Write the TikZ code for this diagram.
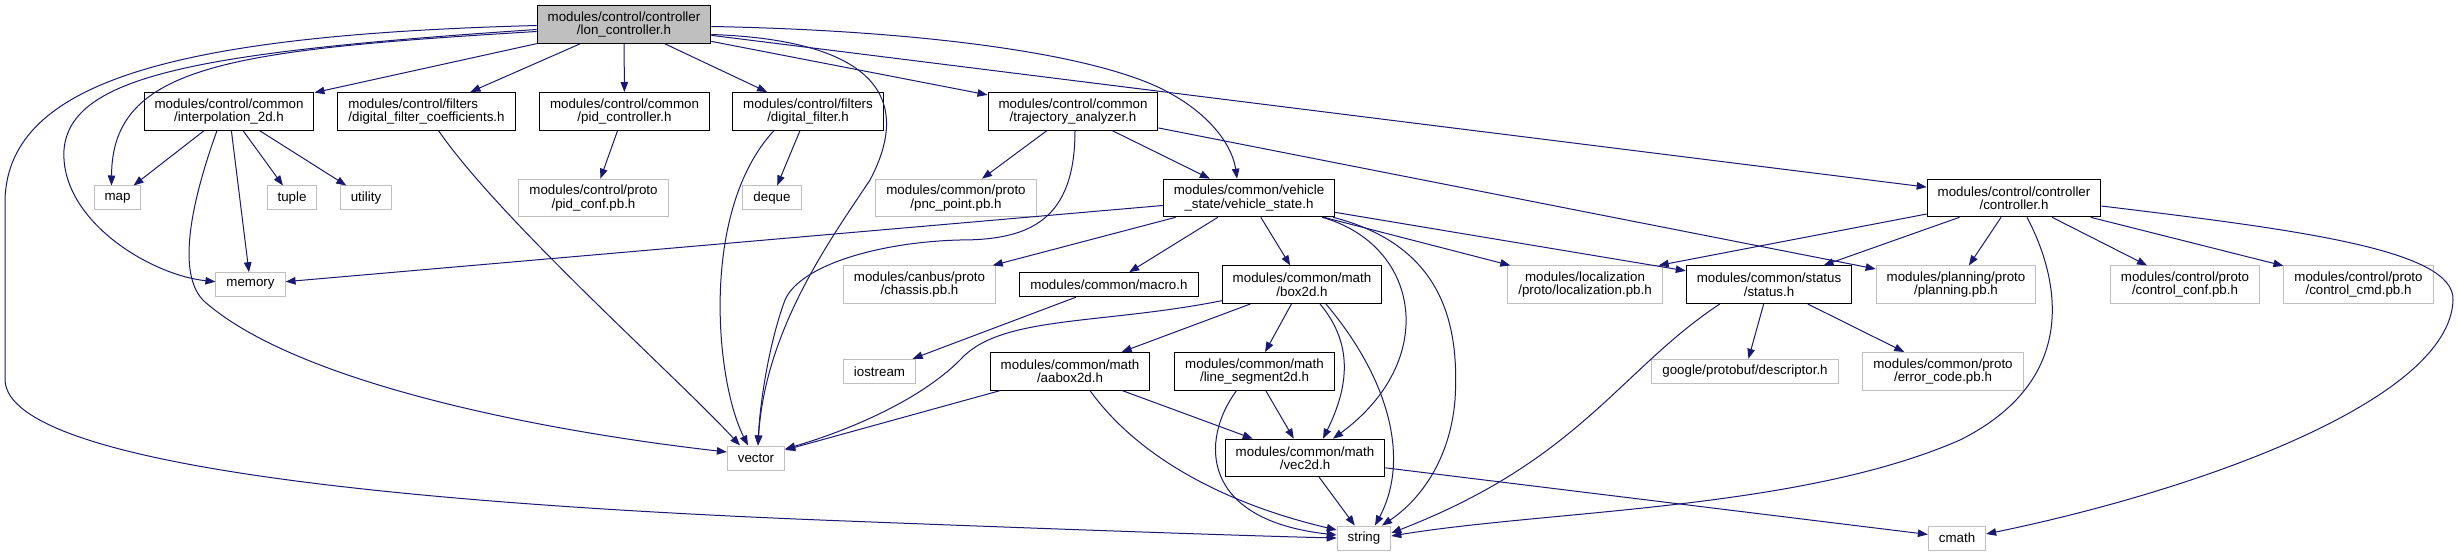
\documentclass[tikz,border=0pt]{standalone}
\usepackage{fontspec}
\setmainfont{Liberation Sans}
\usetikzlibrary{arrows.meta,calc}
\definecolor{edgeblue}{HTML}{191970}
\definecolor{boxgrey}{HTML}{BFBFBF}
\newcommand{\lblfont}{\fontsize{13.33}{13.33}\selectfont}
\tikzset{
	file/.style={draw=black, fill=white, line width=1pt, font=\lblfont, align=center, inner xsep=10.5pt, inner ysep=1pt, minimum height=24pt},
	extfile/.style={file, draw=boxgrey},
	rootfile/.style={file, fill=boxgrey},
	twoline/.style={minimum height=37.6pt},
	dep/.style={draw=edgeblue, line width=1pt, -{Triangle[length=10pt,width=7.5pt]}}
}
\begin{document}
\begin{tikzpicture}[x=1pt,y=-1pt]
	\useasboundingbox (0,0) rectangle (2458,556);
	% rank 0 and 1
	\node[rootfile,twoline] (root) at (624,24.5) {modules/control/controller\\/lon\_controller.h};
	\node[file,twoline] (interp) at (229,111.3) {modules/control/common\\/interpolation\_2d.h};
	\node[file,twoline,align=left] (dfc) at (426.5,111.3) {modules/control/filters\\/digital\_filter\_coefficients.h};
	\node[file,twoline] (pidc) at (624.5,111.3) {modules/control/common\\/pid\_controller.h};
	\node[file,twoline] (dfilt) at (808,111.3) {modules/control/filters\\/digital\_filter.h};
	\node[file,twoline] (traj) at (1073,111.3) {modules/control/common\\/trajectory\_analyzer.h};
	% rank 2
	\node[extfile] (map) at (117.5,198) {map};
	\node[extfile] (tuple) at (292,198) {tuple};
	\node[extfile] (utility) at (366,198) {utility};
	\node[extfile,twoline] (pidconf) at (593.5,198) {modules/control/proto\\/pid\_conf.pb.h};
	\node[extfile] (deque) at (772,198) {deque};
	\node[extfile,twoline] (pnc) at (956,198) {modules/common/proto\\/pnc\_point.pb.h};
	\node[file,twoline] (vstate) at (1249,198) {modules/common/vehicle\\\_state/vehicle\_state.h};
	\node[file,twoline] (ctrl) at (2014,198) {modules/control/controller\\/controller.h};
	% rank 3
	\node[extfile] (memory) at (250.5,284.7) {memory};
	\node[extfile,twoline] (chassis) at (919.5,284.7) {modules/canbus/proto\\/chassis.pb.h};
	\node[file] (macro) at (1109,284.7) {modules/common/macro.h};
	\node[file,twoline] (box2d) at (1302,284.7) {modules/common/math\\/box2d.h};
	\node[extfile,twoline] (loc) at (1585,284.7) {modules/localization\\/proto/localization.pb.h};
	\node[file,twoline] (status) at (1769,284.7) {modules/common/status\\/status.h};
	\node[extfile,twoline] (planning) at (1956,284.7) {modules/planning/proto\\/planning.pb.h};
	\node[extfile,twoline] (cconf) at (2185,284.7) {modules/control/proto\\/control\_conf.pb.h};
	\node[extfile,twoline] (ccmd) at (2358.5,284.7) {modules/control/proto\\/control\_cmd.pb.h};
	% rank 4
	\node[extfile] (iostream) at (879.5,371.3) {iostream};
	\node[file,twoline] (aabox) at (1070,371.3) {modules/common/math\\/aabox2d.h};
	\node[file,twoline] (lineseg) at (1254.5,371.3) {modules/common/math\\/line\_segment2d.h};
	\node[extfile] (descr) at (1745,371.3) {google/protobuf/descriptor.h};
	\node[extfile,twoline] (errcode) at (1943,371.3) {modules/common/proto\\/error\_code.pb.h};
	% rank 5 and 6
	\node[extfile] (vector) at (756,458) {vector};
	\node[file,twoline] (vec2d) at (1305,458) {modules/common/math\\/vec2d.h};
	\node[extfile] (string) at (1364,538) {string};
	\node[extfile] (cmath) at (1957,538) {cmath};

	% lon_controller.h
	\draw[dep] (root) -- (interp);
	\draw[dep] (root) -- (dfc);
	\draw[dep] (root) -- (pidc);
	\draw[dep] (root) -- (dfilt);
	\draw[dep] ($(root.west)+(0,7)$) .. controls (230,50) and (112,65) .. ($(map.north)+(-6,0)$);
	\draw[dep] ($(root.west)+(0,5)$) .. controls (200,52) and (70,75) .. (64,150) .. controls (60,220) and (150,275) .. ($(memory.west)+(0,-3)$);
	\draw[dep] ($(root.west)+(0,1)$) .. controls (180,35) and (8,80) .. (5,200) -- (5,380) .. controls (8,470) and (450,505) .. (820,520) .. controls (1050,529) and (1250,536) .. (string.west);
	\draw[dep] ($(root.east)+(0,10)$) .. controls (870,40) and (915,95) .. (870,180) .. controls (830,240) and (765,330) .. ($(vector.north)+(2,0)$);
	\draw[dep] (root) -- (traj);
	\draw[dep] ($(root.east)+(0,2)$) .. controls (900,30) and (1080,50) .. (1160,88) .. controls (1215,115) and (1233,150) .. ($(vstate.north)+(-12,0)$);
	\draw[dep] (root) -- (ctrl);

	% interpolation_2d.h
	\draw[dep] (interp) -- (map);
	\draw[dep] (interp) -- (tuple);
	\draw[dep] (interp) -- (utility);
	\draw[dep] (interp) -- (memory);
	\draw[dep] ($(interp.south)+(-12,0)$) .. controls (192,200) and (175,275) .. (205,302) .. controls (300,385) and (550,432) .. ($(vector.west)+(0,-6)$);

	% filters and pid
	\draw[dep] ($(dfc.south)+(12,0)$) .. controls (500,220) and (680,380) .. ($(vector.north)+(-16,0)$);
	\draw[dep] (pidc) -- (pidconf);
	\draw[dep] (dfilt) -- (deque);
	\draw[dep] ($(dfilt.south)+(-34,0)$) .. controls (700,210) and (715,380) .. ($(vector.north)+(-8,0)$);

	% trajectory_analyzer.h
	\draw[dep] (traj) -- (pnc);
	\draw[dep] (traj) -- (vstate);
	\draw[dep] ($(traj.south)+(2,0)$) .. controls (1075,220) and (1030,240) .. (960,240) .. controls (880,242) and (800,265) .. (785,300) .. controls (770,340) and (760,400) .. ($(vector.north)+(2,0)$);
	\draw[dep] (traj) -- (planning);

	% vehicle_state.h
	\draw[dep] (vstate) -- (memory);
	\draw[dep] (vstate) -- (chassis);
	\draw[dep] (vstate) -- (macro);
	\draw[dep] (vstate) -- (box2d);
	\draw[dep] (vstate) -- (loc);
	\draw[dep] (vstate) -- (status);
	\draw[dep] ($(vstate.south east)+(-13,0)$) .. controls (1420,245) and (1440,360) .. ($(vec2d.north)+(28,0)$);
	\draw[dep] ($(vstate.south east)+(-2,0)$) .. controls (1440,245) and (1460,320) .. (1455,400) .. controls (1450,460) and (1420,500) .. ($(string.north)+(18,0)$);

	% math
	\draw[dep] (macro) -- (iostream);
	\draw[dep] (box2d) -- (aabox);
	\draw[dep] (box2d) -- (lineseg);
	\draw[dep] ($(box2d.south)+(18,0)$) .. controls (1350,340) and (1352,380) .. ($(vec2d.north)+(18,0)$);
	\draw[dep] ($(box2d.south)+(24,0)$) .. controls (1390,380) and (1410,460) .. ($(string.north)+(11,0)$);
	\draw[dep] ($(box2d.west)+(0,16)$) .. controls (1100,325) and (1000,315) .. (960,360) .. controls (920,400) and (850,430) .. ($(vector.east)+(0,-9)$);
	\draw[dep] (aabox) -- (vector);
	\draw[dep] (aabox) -- (vec2d);
	\draw[dep] ($(aabox.south)+(20,0)$) .. controls (1140,460) and (1230,505) .. ($(string.west)+(0,-8)$);
	\draw[dep] (lineseg) -- (vec2d);
	\draw[dep] ($(lineseg.south)+(-18,0)$) .. controls (1200,440) and (1200,520) .. ($(string.west)+(0,-3)$);
	\draw[dep] (vec2d) -- (string);
	\draw[dep] (vec2d) -- (cmath);

	% status.h
	\draw[dep] (status) -- (descr);
	\draw[dep] (status) -- (errcode);
	\draw[dep] ($(status.south west)+(34,0)$) .. controls (1620,370) and (1580,460) .. ($(string.east)+(0,-5)$);

	% controller.h
	\draw[dep] ($(ctrl.west)+(0,16)$) -- ($(loc.north east)+(-4,0)$);
	\draw[dep] (ctrl) -- (status);
	\draw[dep] (ctrl) -- (planning);
	\draw[dep] (ctrl) -- (cconf);
	\draw[dep] (ctrl) -- (ccmd);
	\draw[dep] ($(ctrl.south)+(13,0)$) .. controls (2060,280) and (2080,380) .. (1960,440) .. controls (1800,510) and (1550,510) .. ($(string.east)+(0,-2)$);
	\draw[dep] ($(ctrl.east)+(0,8)$) .. controls (2300,230) and (2455,250) .. (2453,300) .. controls (2450,400) and (2200,490) .. ($(cmath.east)+(0,-4)$);
\end{tikzpicture}
\end{document}
